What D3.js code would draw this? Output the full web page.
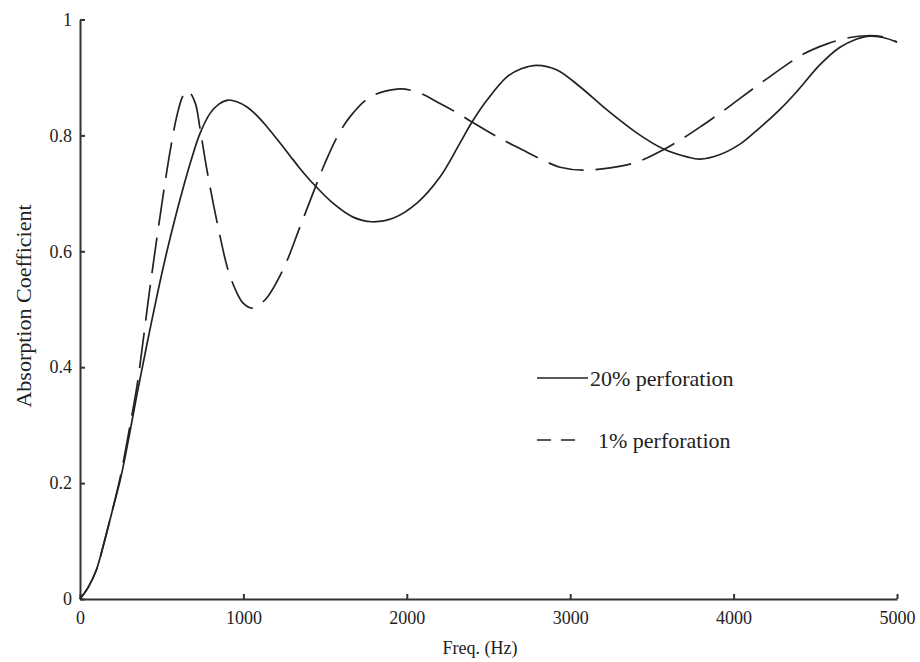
<!DOCTYPE html>
<html>
<head>
<meta charset="utf-8">
<script src="https://cdn.jsdelivr.net/npm/d3@7"></script>
<style>
  body { margin: 0; background: #fff; }
  svg text { font-family: "Liberation Serif", "Times New Roman", serif; fill: #222; }
  .axis path, .axis line { stroke: #333; stroke-width: 2px; }
</style>
</head>
<body>
<svg id="chart" width="920" height="662"></svg>
<script>
// 20% perforation (solid)
var freqSolid = [0, 50, 100, 150, 200, 250, 300, 350, 410, 480, 532, 580, 630, 680, 734, 796, 850, 906, 960, 1022,
  1080, 1144, 1210, 1285, 1346, 1426, 1548, 1671, 1787, 1916, 2062, 2203, 2326, 2399, 2491, 2613, 2700, 2797,
  2919, 3060, 3225, 3409, 3568, 3715, 3794, 3917, 4039, 4119, 4284, 4388, 4529, 4651, 4750, 4816, 4914, 5000];
var absSolid = [0, 0.02, 0.05, 0.1, 0.155, 0.21, 0.28, 0.355, 0.44, 0.535, 0.6, 0.655, 0.708, 0.757, 0.803, 0.838, 0.854, 0.861, 0.858, 0.849,
  0.835, 0.815, 0.792, 0.765, 0.743, 0.717, 0.683, 0.659, 0.651, 0.657, 0.683, 0.728, 0.787, 0.823, 0.861, 0.901, 0.915, 0.921,
  0.913, 0.884, 0.844, 0.804, 0.777, 0.763, 0.759, 0.767, 0.785, 0.803, 0.845, 0.876, 0.922, 0.952, 0.966, 0.971, 0.969, 0.961];

// 1% perforation (dashed)
var freqDashed = [0, 50, 100, 150, 200, 250, 300, 350, 386, 420, 459, 508, 551, 594, 630, 661, 704, 734, 777, 845, 906, 961,
  1000, 1053, 1132, 1242, 1346, 1438, 1499, 1573, 1652, 1775, 1940, 2062, 2203, 2326, 2399, 2570, 2736, 2858, 2938,
  3078, 3244, 3409, 3568, 3690, 3813, 3935, 4021, 4180, 4425, 4572, 4712, 4816, 4914, 5000];
var absDashed = [0, 0.02, 0.05, 0.1, 0.155, 0.215, 0.29, 0.37, 0.445, 0.52, 0.6, 0.695, 0.772, 0.835, 0.868, 0.877, 0.857, 0.813, 0.74, 0.642, 0.568, 0.528,
  0.51, 0.502, 0.516, 0.568, 0.642, 0.709, 0.752, 0.797, 0.832, 0.866, 0.88, 0.875, 0.855, 0.836, 0.823, 0.795, 0.771, 0.754, 0.745,
  0.74, 0.744, 0.754, 0.775, 0.795, 0.818, 0.842, 0.86, 0.893, 0.94, 0.958, 0.969, 0.972, 0.970, 0.961];

var xTicks = [0, 1000, 2000, 3000, 4000, 5000];
var yTicks = [0, 0.2, 0.4, 0.6, 0.8, 1];
var legendLabels = ["20% perforation", "1% perforation"];

var svg = d3.select("#chart");

var x = d3.scaleLinear().domain([0, 5000]).range([80, 897]);
var y = d3.scaleLinear().domain([0, 1]).range([599, 19.5]);

var xAxis = svg.append("g")
    .attr("class", "axis")
    .attr("transform", "translate(0," + y(0) + ")")
    .call(d3.axisBottom(x).tickValues(xTicks).tickSizeInner(-5).tickSizeOuter(0).tickPadding(12).tickFormat(d3.format("d")));

var yAxis = svg.append("g")
    .attr("class", "axis")
    .attr("transform", "translate(" + x(0) + ",0)")
    .call(d3.axisLeft(y).tickValues(yTicks).tickSizeInner(-5).tickSizeOuter(0).tickPadding(8).tickFormat(d3.format("~g")));

svg.selectAll(".axis text").style("font-size", "18px").attr("fill", "#222").style("font-family", "Liberation Serif");

var line = d3.line()
    .x(function (d) { return x(d[0]); })
    .y(function (d) { return y(d[1]); })
    .curve(d3.curveCatmullRom.alpha(0.5));

var solidData = freqSolid.map(function (f, i) { return [f, absSolid[i]]; });
var dashedData = freqDashed.map(function (f, i) { return [f, absDashed[i]]; });

svg.append("path")
    .datum(dashedData)
    .attr("d", line)
    .attr("fill", "none")
    .attr("stroke", "#222")
    .attr("stroke-width", 1.7)
    .attr("stroke-dasharray", "36,12");

svg.append("path")
    .datum(solidData)
    .attr("d", line)
    .attr("fill", "none")
    .attr("stroke", "#222")
    .attr("stroke-width", 1.7);

// legend
var legend = svg.append("g");
legend.append("line")
    .attr("x1", 537).attr("x2", 588).attr("y1", 378).attr("y2", 378)
    .attr("stroke", "#222").attr("stroke-width", 1.7);
legend.append("text")
    .attr("x", 590).attr("y", 378).attr("dy", "0.35em")
    .style("font-size", "22px")
    .text(legendLabels[0]);
legend.append("line")
    .attr("x1", 537).attr("x2", 576).attr("y1", 440).attr("y2", 440)
    .attr("stroke", "#222").attr("stroke-width", 1.7)
    .attr("stroke-dasharray", "14,10");
legend.append("text")
    .attr("x", 598).attr("y", 440).attr("dy", "0.35em")
    .style("font-size", "22px")
    .text(legendLabels[1]);

// axis titles
svg.append("text")
    .attr("x", 480).attr("y", 648).attr("dy", "0.35em")
    .attr("text-anchor", "middle")
    .style("font-size", "18px")
    .text("Freq. (Hz)");

svg.append("text")
    .attr("transform", "translate(23,306) rotate(-90)")
    .attr("dy", "0.35em")
    .attr("text-anchor", "middle")
    .style("font-size", "22px")
    .text("Absorption Coefficient");
</script>
</body>
</html>
